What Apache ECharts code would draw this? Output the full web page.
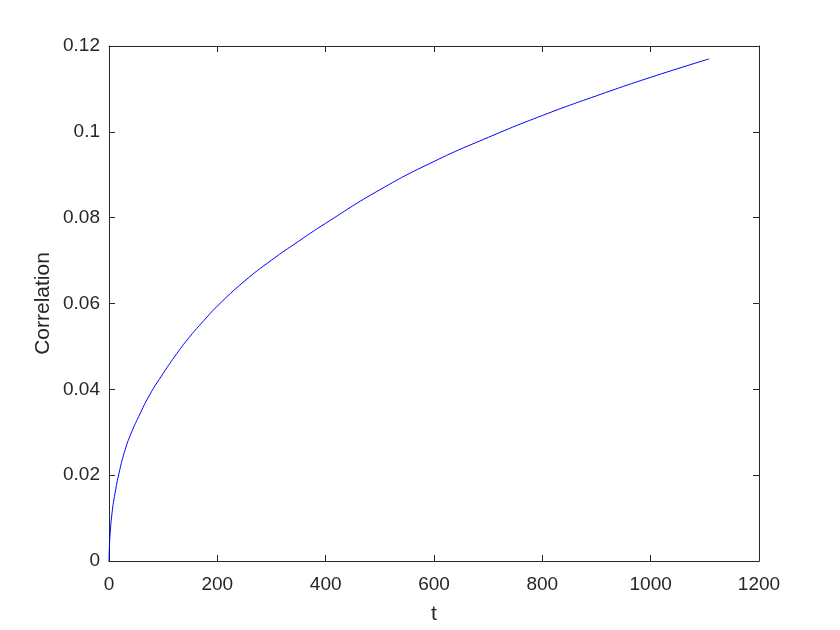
<!DOCTYPE html>
<html>
<head>
<meta charset="utf-8">
<script src="https://cdn.jsdelivr.net/npm/echarts@6/dist/echarts.min.js"></script>
<style>html,body{margin:0;padding:0;background:#fff}#c{width:840px;height:630px}</style>
</head>
<body>
<div id="c"></div>
<script>
const tValues = [0, 1, 2, 5, 10, 20, 30, 40, 55, 75, 100, 125, 150, 175, 200, 250, 300, 350, 400, 500, 600, 700, 800, 900, 1000, 1108];
const corrValues = [0, 0.0040, 0.0062, 0.0105, 0.0150, 0.0213, 0.0260, 0.0295, 0.0337, 0.0387, 0.0437, 0.0483, 0.0524, 0.0560, 0.0594, 0.0652, 0.0701, 0.0745, 0.0787, 0.0865, 0.0931, 0.0987, 0.1038, 0.1084, 0.1127, 0.1170];
const xTicks = [0, 200, 400, 600, 800, 1000, 1200];
const yTicks = [0, 0.02, 0.04, 0.06, 0.08, 0.1, 0.12];
const xName = 't';
const yName = 'Correlation';

const font = 'Liberation Sans, Arial, Helvetica, sans-serif';
const axisCol = '#262626';
const chart = echarts.init(document.getElementById('c'), null, {renderer: 'canvas'});
function axisLine() { return {show: true, onZero: false, lineStyle: {color: axisCol, width: 1}}; }
function tick() { return {show: true, inside: true, length: 6, lineStyle: {color: axisCol, width: 1}}; }
chart.setOption({
  animation: false,
  backgroundColor: '#fff',
  grid: {left: 109, right: 81, top: 46, bottom: 69, containLabel: false},
  xAxis: [{
    type: 'value', min: 0, max: 1200, interval: 200, position: 'bottom',
    name: xName, nameLocation: 'middle', nameGap: 43, nameMoveOverlap: false,
    nameTextStyle: {fontFamily: font, fontSize: 21, color: axisCol},
    axisLine: axisLine(), axisTick: tick(),
    axisLabel: {fontFamily: font, fontSize: 19, color: axisCol, margin: 14,
      formatter: v => xTicks.includes(v) ? String(v) : ''},
    splitLine: {show: false}
  }, {
    type: 'value', min: 0, max: 1200, interval: 200, position: 'top',
    axisLine: axisLine(), axisTick: tick(), axisLabel: {show: false}, splitLine: {show: false}
  }],
  yAxis: [{
    type: 'value', min: 0, max: 0.12, interval: 0.02, position: 'left',
    name: yName, nameLocation: 'middle', nameGap: 55, nameMoveOverlap: false,
    nameTextStyle: {fontFamily: font, fontSize: 21, color: axisCol},
    axisLine: axisLine(), axisTick: tick(),
    axisLabel: {fontFamily: font, fontSize: 19, color: axisCol, margin: 9,
      formatter: v => { const m = yTicks.find(t => Math.abs(t - v) < 1e-9); return m === undefined ? '' : String(m); }},
    splitLine: {show: false}
  }, {
    type: 'value', min: 0, max: 0.12, interval: 0.02, position: 'right',
    axisLine: axisLine(), axisTick: tick(), axisLabel: {show: false}, splitLine: {show: false}
  }],
  series: [{
    type: 'line',
    xAxisIndex: 0, yAxisIndex: 0,
    data: tValues.map((t, i) => [t, corrValues[i]]),
    smooth: 0.5,
    showSymbol: false,
    lineStyle: {color: '#0000ff', width: 1},
    itemStyle: {color: '#0000ff'}
  }]
});
</script>
</body>
</html>
